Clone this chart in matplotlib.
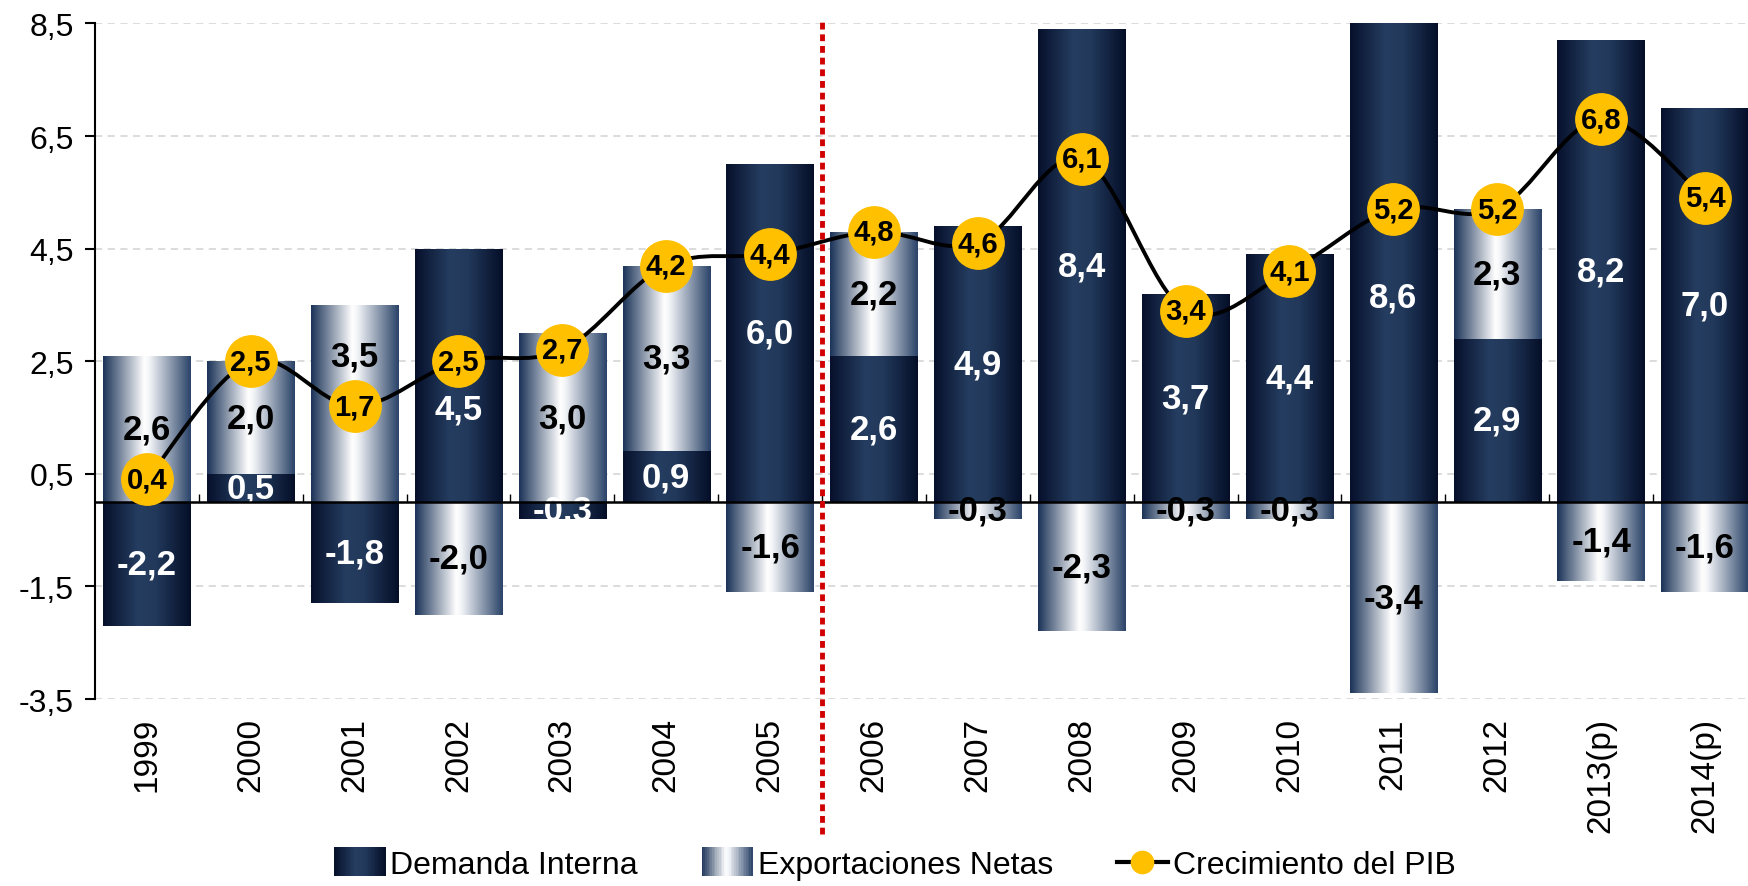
import numpy as np
import matplotlib
matplotlib.use('Agg')
from matplotlib import pyplot as plt
from matplotlib.colors import LinearSegmentedColormap
from matplotlib.patches import Rectangle, PathPatch
from matplotlib.path import Path
from matplotlib.lines import Line2D
from matplotlib.legend_handler import HandlerBase

# Data (contribuciones al crecimiento, %)
years = ['1999', '2000', '2001', '2002', '2003', '2004', '2005', '2006',
         '2007', '2008', '2009', '2010', '2011', '2012', '2013(p)', '2014(p)']
demanda = [-2.2, 0.5, -1.8, 4.5, -0.3, 0.9, 6.0, 2.6, 4.9, 8.4, 3.7, 4.4, 8.6, 2.9, 8.2, 7.0]
exportaciones = [2.6, 2.0, 3.5, -2.0, 3.0, 3.3, -1.6, 2.2, -0.3, -2.3, -0.3, -0.3, -3.4, 2.3, -1.4, -1.6]
pib = [0.4, 2.5, 1.7, 2.5, 2.7, 4.2, 4.4, 4.8, 4.6, 6.1, 3.4, 4.1, 5.2, 5.2, 6.8, 5.4]
yticks = [-3.5, -1.5, 0.5, 2.5, 4.5, 6.5, 8.5]

# labels moved by hand so they don't sit under the yellow markers
label_nudge = {('di', 3): -0.6, ('en', 2): 0.85, ('di', 12): -0.6}

plt.rcParams['font.family'] = ['Liberation Sans', 'DejaVu Sans']

dark_cm = LinearSegmentedColormap.from_list(
    'dark', [(0, '#06102b'), (0.4, '#253d60'), (0.6, '#22395b'), (1, '#050e28')])
light_cm = LinearSegmentedColormap.from_list(
    'light', [(0, '#1b3358'), (0.47, '#ffffff'), (0.53, '#f2f4f7'), (1, '#2a4368')])


def fmt(v):
    return f'{v:.1f}'.replace('.', ',')


fig = plt.figure(figsize=(17.48, 8.87), dpi=100)
ax = fig.add_axes([0.0543, 0.2108, 0.9508, 0.7616])

x = np.arange(len(years))
width = 0.84
ylo, yhi = -3.5, 8.5

di_bottom = np.zeros(len(x))
en_bottom = np.array([d if (d > 0) == (e > 0) else 0 for d, e in zip(demanda, exportaciones)])

grad = np.linspace(0, 1, 256).reshape(1, -1)


def gradient_bars(vals, bottoms, cmap):
    bars = ax.bar(x, vals, width, bottom=bottoms, facecolor='none', edgecolor='none', zorder=2)
    for r in bars:
        x0, y0 = r.get_x(), r.get_y()
        x1, y1 = x0 + r.get_width(), y0 + r.get_height()
        lo, hi = max(min(y0, y1), ylo), min(max(y0, y1), yhi)
        im = ax.imshow(grad, cmap=cmap, extent=(x0, x1, lo, hi),
                       aspect='auto', interpolation='bicubic', zorder=2)
        im.set_clip_path(r)
    return bars


gradient_bars(demanda, di_bottom, dark_cm)
gradient_bars(exportaciones, en_bottom, light_cm)

# segment labels
for key, vals, bottoms, col in [('di', demanda, di_bottom, 'white'),
                                ('en', exportaciones, en_bottom, 'black')]:
    for i, v in enumerate(vals):
        lo, hi = sorted([bottoms[i], bottoms[i] + v])
        hi = min(hi, yhi)
        yc = (lo + hi) / 2 + label_nudge.get((key, i), 0)
        ax.text(x[i], yc, fmt(v), ha='center', va='center', color=col,
                fontsize=25, fontweight='bold', zorder=3)

# smoothed PIB line
n = len(x)
verts = [(x[0], pib[0])]
codes = [Path.MOVETO]
for i in range(n - 1):
    p0 = np.array([x[max(i - 1, 0)], pib[max(i - 1, 0)]])
    p1 = np.array([x[i], pib[i]])
    p2 = np.array([x[i + 1], pib[i + 1]])
    p3 = np.array([x[min(i + 2, n - 1)], pib[min(i + 2, n - 1)]])
    c1 = p1 + (p2 - p0) / 6
    c2 = p2 - (p3 - p1) / 6
    verts += [tuple(c1), tuple(c2), tuple(p2)]
    codes += [Path.CURVE4] * 3
ax.add_patch(PathPatch(Path(verts, codes), facecolor='none', edgecolor='black', lw=2.8, zorder=4))
ax.plot(x, pib, 'o', ms=37, mfc='#FFC000', mec='#FFC000', ls='none', zorder=5)
for i, v in enumerate(pib):
    ax.text(x[i], v, fmt(v), ha='center', va='center', fontsize=21, fontweight='bold', zorder=6)

# axes
ax.axhline(0, color='black', lw=1.8, zorder=3)
ax.vlines(x[:-1] + 0.5, 0, 0.15, color='black', lw=1, zorder=3)
ax.axvline(6.5, ymin=-0.2, ymax=1.007, color='#d00000', lw=3.5, ls=(0, (1.4, 1.0)),
           clip_on=False, zorder=7)

ax.set_yticks(yticks)
ax.set_yticklabels([fmt(t) for t in yticks], fontsize=23)
ax.yaxis.grid(True, ls=(0, (4, 3)), color='#d9d9d9', lw=1.3)
ax.set_axisbelow(True)
ax.set_xticks(x)
ax.set_xticklabels(years, rotation=90, fontsize=24)
ax.tick_params(axis='x', length=0, pad=13)
ax.tick_params(axis='y', length=7, width=1.5, direction='out', pad=8)
for s in ['top', 'right', 'bottom']:
    ax.spines[s].set_visible(False)
ax.spines['left'].set_linewidth(1.5)
ax.set_xlim(-0.5, 15.5)
ax.set_ylim(ylo, yhi)


class GradientHandler(HandlerBase):
    def __init__(self, cmap):
        super().__init__()
        self.cmap = cmap

    def create_artists(self, legend, orig_handle, xdescent, ydescent, width, height, fontsize, trans):
        steps = 30
        arts = []
        for k in range(steps):
            arts.append(Rectangle((-xdescent + width * k / steps, -ydescent - height * 0.15),
                                  width / steps * 1.05, height * 1.3,
                                  facecolor=self.cmap((k + 0.5) / steps), edgecolor='none',
                                  transform=trans))
        return arts


h_di = Rectangle((0, 0), 1, 1)
h_en = Rectangle((0, 0), 1, 1)
h_pib = Line2D([], [], color='black', lw=3, marker='o', ms=16, mfc='#FFC000', mec='#FFC000')
fig.legend([h_di, h_en, h_pib], ['Demanda Interna', 'Exportaciones Netas', 'Crecimiento del PIB'],
           loc='center', bbox_to_anchor=(0.512, 0.024), ncol=3, frameon=False, fontsize=23,
           handlelength=1.6, handletextpad=0.15, columnspacing=2.0, borderpad=0.1,
           handler_map={h_di: GradientHandler(dark_cm), h_en: GradientHandler(light_cm)})

fig.savefig('out.png', dpi=100)
